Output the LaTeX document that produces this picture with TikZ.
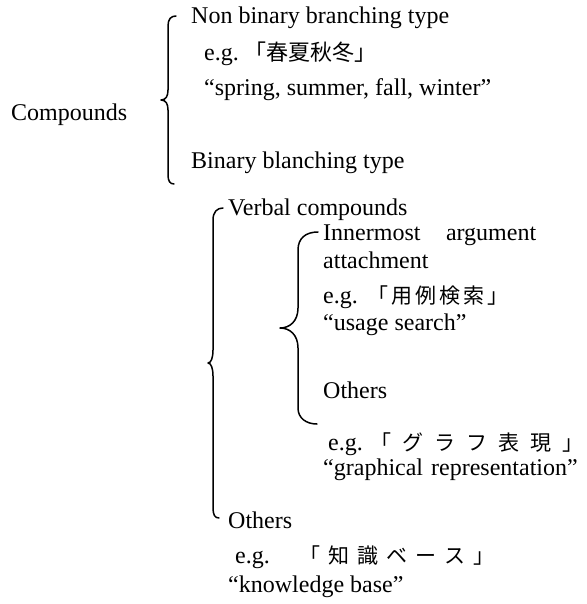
\documentclass[tikz,border=0pt]{standalone}
\usepackage{fontspec}
\setmainfont{Liberation Serif}
\newfontfamily\cjk{Noto Sans CJK JP}
\newcommand\cg{\hspace{3pt}}
\newcommand\cgg{\hspace{11pt}}
\newcommand\cgk{\hspace{8pt}}
\begin{document}
\begin{tikzpicture}[x=1pt,y=-1pt,
  txt/.style={anchor=base west,inner sep=0pt,font=\fontsize{24}{28}\selectfont},
  bracestyle/.style={line width=1.5pt,line cap=round,line join=round}]
\useasboundingbox (0,0) rectangle (586,604);
% top level
\node[txt] (comp) at (11,121) {Compounds};
\node[txt] (nonbin) at (191,24) {Non binary branching type};
\node[txt] (eg1) at (204,61) {e.g.\hspace{6pt}{\fontsize{22}{26}\cjk 「春夏秋冬」}};
\node[txt] (tr1) at (204,96) {“spring, summer, fall, winter”};
\node[txt] (bin) at (191,168) {Binary blanching type};
\draw[bracestyle] (176,16) .. controls (171,16) and (168,19) .. (168,26)
  -- (168,90) .. controls (168,96) and (166,100) .. (161,100)
  .. controls (166,100) and (168,104) .. (168,110)
  -- (168,175) .. controls (168,181) and (170,184) .. (174,184);
% second level
\node[txt] (verbal) at (228,215) {Verbal compounds};
\draw[bracestyle] (223,208) .. controls (217,208) and (213,212) .. (213,220)
  -- (213,350) .. controls (213,358) and (211,363) .. (208,363)
  .. controls (211,363) and (213,368) .. (213,376)
  -- (213,508) .. controls (213,515) and (215,518) .. (219,518);
\node[txt] (inner) at (323,240) {\hbox to 213pt{Innermost\hfill argument}};
\node[txt] (attach) at (323,268) {attachment};
\node[txt] (eg2) at (323,303) {e.g.\hspace{10pt}{\fontsize{21}{26}\cjk 「\cg 用\cg 例\cg 検\cg 索\cg 」}};
\node[txt] (tr2) at (323,330) {“usage search”};
\node[txt] (oth1) at (323,398) {Others};
\draw[bracestyle] (318,232) .. controls (306,232) and (298,238) .. (298,250)
  -- (298,308) .. controls (298,321) and (290,328) .. (280,328)
  .. controls (290,328) and (298,335) .. (298,348)
  -- (298,408) .. controls (298,418) and (306,424) .. (317,424);
\node[txt] (eg3) at (328,450) {e.g.\hspace{8pt}{\fontsize{21}{26}\cjk 「\cgg グ\cgg ラ\cgg フ\cgg 表\cgg 現\cgg 」}};
\node[txt] (tr3) at (323,475) {“graphical\hspace{8pt}representation”};
% last
\node[txt] (oth2) at (228,528) {Others};
\node[txt] (eg4) at (235,563) {e.g.\hspace{30pt}{\fontsize{21}{26}\cjk 「\cgk 知\cgk 識\cgk ベ\cgk ー\cgk ス\cgk 」}};
\node[txt] (tr4) at (228,592) {“knowledge base”};
\end{tikzpicture}
\end{document}
